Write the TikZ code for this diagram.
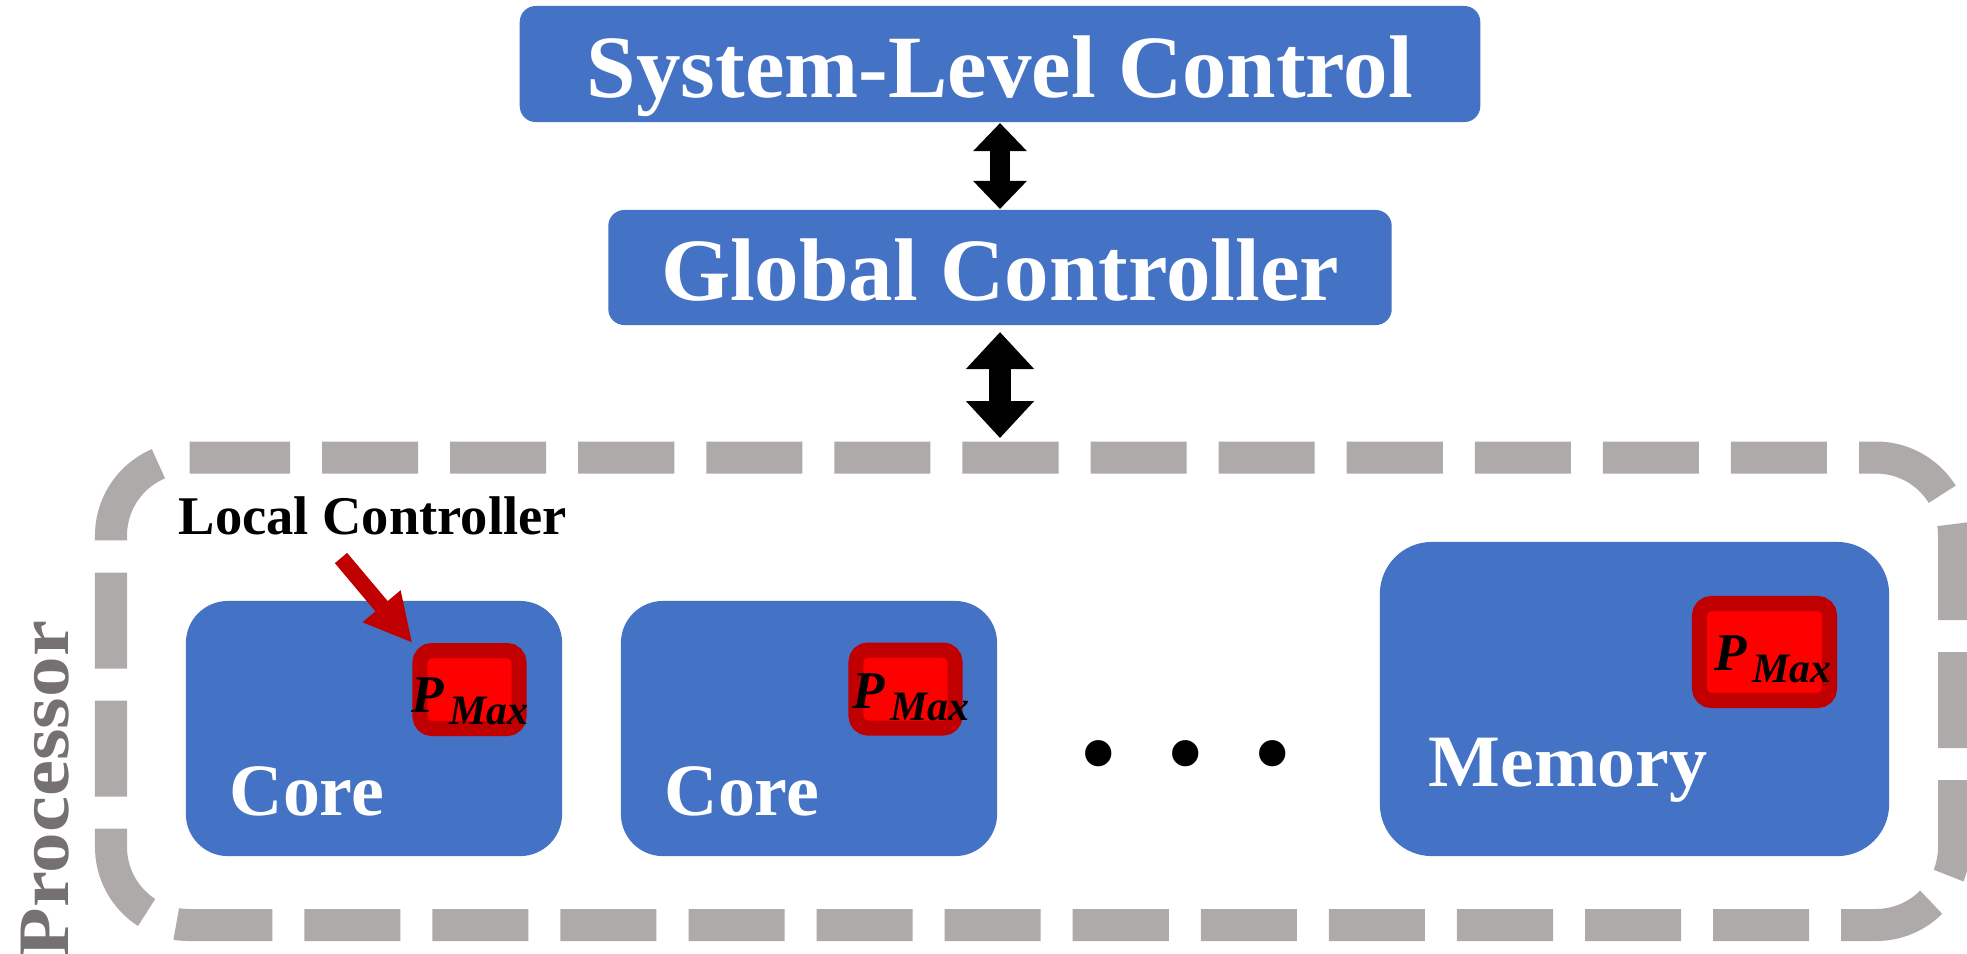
\documentclass[tikz,border=0pt]{standalone}
\usepackage{fontspec}
\setmainfont{Liberation Serif}
\usetikzlibrary{arrows.meta}

\definecolor{boxblue}{RGB}{68,114,196}
\definecolor{darkred}{RGB}{192,0,0}
\definecolor{brightred}{RGB}{255,0,0}
\definecolor{dashgray}{RGB}{174,170,170}
\definecolor{labelgray}{RGB}{118,113,113}

\begin{document}
\begin{tikzpicture}[x=0.01cm, y=-0.01cm,
  ctrlbox/.style={fill=boxblue, draw=none, rounded corners=0.16cm, inner sep=0pt, outer sep=0pt,
    text=white, font=\fontsize{25.3}{30}\selectfont\bfseries, text height=0.66cm, text depth=0cm},
  unitbox/.style={fill=boxblue, draw=none, inner sep=0pt, outer sep=0pt},
  unitlabel/.style={text=white, font=\fontsize{21}{25}\selectfont\bfseries, anchor=base west, inner sep=0pt},
  pmaxbox/.style={fill=brightred, draw=darkred, line width=0.15cm, rounded corners=0.12cm, inner sep=0pt},
  pmaxlabel/.style={font=\fontsize{15.1}{18}\selectfont\bfseries\itshape, anchor=base west, inner sep=0pt},
  procborder/.style={draw=dashgray, line width=0.32cm, rounded corners=0.78cm, dash pattern=on 0.96cm off 0.32cm},
  linkone/.style={line width=0.2cm,
    {Triangle[length=0.28cm,width=0.52cm]}-{Triangle[length=0.28cm,width=0.52cm]}},
  linktwo/.style={line width=0.22cm,
    {Triangle[length=0.37cm,width=0.66cm]}-{Triangle[length=0.37cm,width=0.66cm]}},
  lcarrow/.style={draw=darkred, line width=0.16cm, -{Triangle[length=0.48cm,width=0.46cm]}}
]
\useasboundingbox (0,0) rectangle (1967,953);
\fill[white] (0,0) rectangle (1967,953);

% control hierarchy
\node[ctrlbox, minimum width=9.60cm, minimum height=1.16cm] (slc) at (1000,64) {System-Level Control};
\node[ctrlbox, minimum width=7.83cm, minimum height=1.15cm] (gc) at (1000,267.5) {Global Controller};

% processor outline
\draw[procborder] (194,457.5) -- (1954,457.5) -- (1954,925) -- (111,925) -- (111,457.5) -- (194,457.5);
\coordinate (proctop) at (1000,438);

\draw[linkone, shorten <=0.01cm, shorten >=0.01cm] (slc.south) -- (gc.north);
\draw[linktwo, shorten <=0.07cm] (gc.south) -- (proctop);

% processor label
\node[rotate=90, anchor=base west, inner sep=0pt, text=labelgray,
  font=\fontsize{20.6}{24}\selectfont\bfseries] (proc) at (68,958) {\scalebox{1.12}[1]{Processor}};

% cores and memory
\node[unitbox, minimum width=3.76cm, minimum height=2.55cm, rounded corners=0.42cm] (core1) at (374,728.5) {};
\node[unitbox, minimum width=3.76cm, minimum height=2.55cm, rounded corners=0.42cm] (core2) at (809,728.5) {};
\node[unitbox, minimum width=5.09cm, minimum height=3.14cm, rounded corners=0.52cm] (mem) at (1634.5,699) {};

\node[unitlabel] (core1lbl) at (229,815) {Core};
\node[unitlabel] (core2lbl) at (664,815) {Core};
\node[unitlabel] (memlbl) at (1428,786) {\scalebox{1.03}[1]{Memory}};

% local power limiters
\node[pmaxbox, minimum width=0.99cm, minimum height=0.78cm] (pm1) at (469.5,689.5) {};
\node[pmaxbox, minimum width=0.99cm, minimum height=0.78cm] (pm2) at (905.5,689) {};
\node[pmaxbox, minimum width=1.30cm, minimum height=0.97cm] (pm3) at (1764.5,652) {};

\node[pmaxlabel] (pm1lbl) at (411,712) {P\hspace{0.05cm}\raisebox{-0.12cm}{\fontsize{11.9}{14}\selectfont Max}};
\node[pmaxlabel] (pm2lbl) at (852,708) {P\hspace{0.05cm}\raisebox{-0.12cm}{\fontsize{11.9}{14}\selectfont Max}};
\node[pmaxlabel] (pm3lbl) at (1714,670) {P\hspace{0.05cm}\raisebox{-0.12cm}{\fontsize{11.9}{14}\selectfont Max}};

% local controller callout
\node[anchor=base west, inner sep=0pt, font=\fontsize{15.5}{18}\selectfont\bfseries] (lc) at (178,534) {Local Controller};
\coordinate (lctail) at (341,558);
\draw[lcarrow] (lctail) -- (pm1.north west);

% ellipsis between units
\node[anchor=base, inner sep=0pt, font=\fontsize{46}{46}\selectfont\bfseries] (dots) at (1186,764) {.\hspace{0.466cm}.\hspace{0.466cm}.};
\end{tikzpicture}
\end{document}
